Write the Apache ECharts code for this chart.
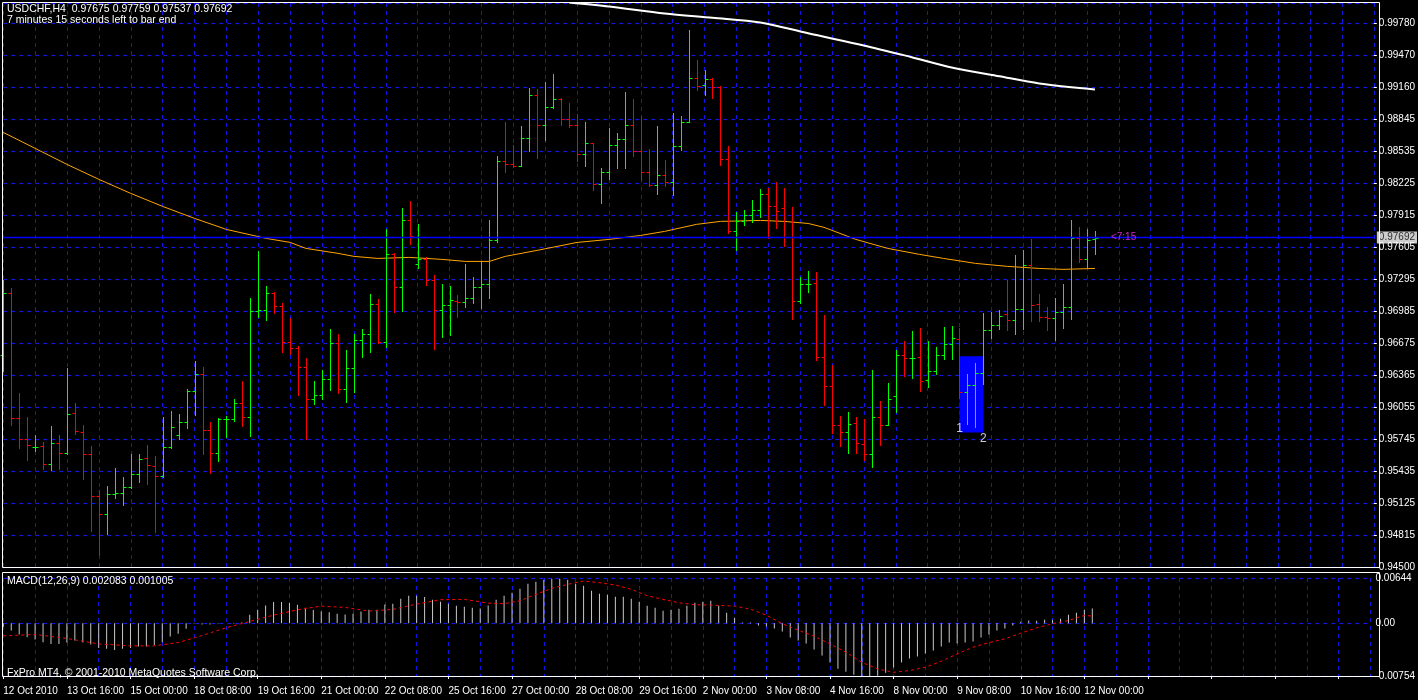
<!DOCTYPE html>
<html><head><meta charset="utf-8">
<script src="https://cdn.jsdelivr.net/npm/echarts@6/dist/echarts.min.js"></script>
<style>html,body{margin:0;padding:0;background:#000}#c{width:1418px;height:700px}</style>
</head><body><div id="c"></div>
<script>
// ---- data ----
const xTickLabels = ['12 Oct 2010','13 Oct 16:00','15 Oct 00:00','18 Oct 08:00','19 Oct 16:00','21 Oct 00:00','22 Oct 08:00','25 Oct 16:00','27 Oct 00:00','28 Oct 08:00','29 Oct 16:00','2 Nov 00:00','3 Nov 08:00','4 Nov 16:00','8 Nov 00:00','9 Nov 08:00','10 Nov 16:00','12 Nov 00:00'];
const priceTickLabels = ['0.94500','0.94815','0.95125','0.95435','0.95745','0.96055','0.96365','0.96675','0.96985','0.97295','0.97605','0.97915','0.98225','0.98535','0.98845','0.99160','0.99470','0.99780'];
const openP = [0.9655,0.97157,0.95946,0.95742,0.95665,0.95675,0.95500,0.95704,0.95607,0.95994,0.95810,0.95597,0.95190,0.95016,0.95210,0.95219,0.95277,0.95403,0.95558,0.95481,
0.95384,0.95665,0.95781,0.95907,0.96208,0.96372,0.95830,0.95607,0.95936,0.95936,0.96091,0.95956,0.96983,0.96992,0.97157,0.97031,0.96676,0.96624,0.96440,0.96124,
0.96163,0.96324,0.96666,0.96227,0.96431,0.96702,0.96760,0.97051,0.96676,0.97535,0.97216,0.97865,0.97438,0.97480,0.97283,0.96993,0.97041,0.97080,0.97070,0.97109,
0.97216,0.97245,0.97665,0.98436,0.98407,0.98388,0.98653,0.99076,0.98785,0.98960,0.99037,0.98843,0.98785,0.98504,0.98611,0.98214,0.98330,0.98592,0.98643,0.98785,
0.98533,0.98330,0.98204,0.98301,0.98233,0.98582,0.98814,0.99241,0.99173,0.99231,0.99154,0.98456,0.97758,0.97855,0.97913,0.97962,0.98117,0.98000,0.97981,0.97700,
0.97080,0.97245,0.97255,0.96538,0.96257,0.95879,0.95811,0.95898,0.95694,0.95598,0.95956,0.95879,0.96160,0.96557,0.96528,0.96538,0.96315,0.96402,0.96557,0.96664,
0.96712,0.96198,0.96266,0.96383,0.96799,0.96848,0.96954,0.96896,0.97003,0.97429,0.97052,0.96925,0.96916,0.96974,0.97022,0.97684,0.97481,0.97675];
const highP = [0.9728,0.97199,0.96182,0.95949,0.95781,0.95710,0.95862,0.95781,0.96424,0.96085,0.95872,0.95668,0.95245,0.95281,0.95455,0.95368,0.95591,0.95591,0.95678,0.95571,
0.95949,0.96007,0.95978,0.96220,0.96492,0.96434,0.95901,0.95939,0.95959,0.96124,0.96298,0.97102,0.97558,0.97219,0.97160,0.97054,0.96909,0.96644,0.96521,0.96298,
0.96405,0.96802,0.96754,0.96599,0.96754,0.96802,0.97141,0.97093,0.97771,0.97539,0.97975,0.98042,0.97823,0.97506,0.97325,0.97238,0.97219,0.97132,0.97432,0.97306,
0.97451,0.97858,0.98478,0.98808,0.98585,0.98769,0.99137,0.99128,0.99196,0.99273,0.99047,0.98992,0.98885,0.98808,0.98611,0.98362,0.98750,0.98701,0.99099,0.99031,
0.98866,0.98546,0.98769,0.98440,0.98895,0.98866,0.99699,0.99409,0.99312,0.99234,0.99157,0.98575,0.97936,0.97955,0.98052,0.98159,0.98168,0.98227,0.98168,0.97984,
0.97306,0.97364,0.97355,0.96938,0.96454,0.95959,0.95998,0.95950,0.95930,0.96405,0.96105,0.96279,0.96599,0.96686,0.96783,0.96812,0.96686,0.96628,0.96822,0.96832,
0.96812,0.96366,0.96473,0.96958,0.96967,0.96987,0.97277,0.97520,0.97568,0.97675,0.97142,0.97016,0.97103,0.97239,0.97859,0.97791,0.97771,0.97759];
const lowP = [0.9640,0.95875,0.95652,0.95536,0.95620,0.95445,0.95439,0.95445,0.95594,0.95784,0.95348,0.94845,0.94612,0.94819,0.95168,0.95100,0.95268,0.95319,0.95300,0.94835,
0.95368,0.95652,0.95736,0.95846,0.95972,0.95591,0.95410,0.95523,0.95755,0.95910,0.95862,0.95765,0.96918,0.96889,0.96957,0.96582,0.96563,0.96166,0.95736,0.96079,
0.96124,0.96214,0.96185,0.96095,0.96192,0.96534,0.96582,0.96673,0.96631,0.96970,0.96980,0.97629,0.97396,0.97232,0.96612,0.96728,0.96747,0.96922,0.97019,0.97057,
0.97009,0.97106,0.97652,0.98327,0.98378,0.98385,0.98530,0.98462,0.98637,0.98950,0.98782,0.98763,0.98433,0.98385,0.98152,0.98026,0.98259,0.98365,0.98365,0.98482,
0.98249,0.98191,0.98113,0.98191,0.98104,0.98540,0.98814,0.99121,0.99073,0.99044,0.98394,0.97736,0.97571,0.97813,0.97845,0.97891,0.97687,0.97784,0.97610,0.96902,
0.97057,0.97164,0.96505,0.96069,0.95798,0.95672,0.95604,0.95604,0.95536,0.95469,0.95682,0.95875,0.96001,0.96350,0.96331,0.96205,0.96244,0.96370,0.96515,0.96515,
0.96137,0.95885,0.95856,0.96273,0.96719,0.96806,0.96796,0.96757,0.96806,0.96883,0.96883,0.96796,0.96699,0.96815,0.96903,0.97455,0.97407,0.97537];
const closeP = [0.97157,0.95946,0.95742,0.95684,0.95665,0.95500,0.95704,0.95607,0.95985,0.95820,0.95597,0.95190,0.95016,0.95210,0.95219,0.95277,0.95403,0.95549,0.95491,0.95384,
0.95665,0.95859,0.95907,0.96208,0.96372,0.95830,0.95607,0.95936,0.95936,0.96091,0.95956,0.96983,0.96992,0.97157,0.97031,0.96676,0.96624,0.96440,0.96124,0.96163,
0.96324,0.96666,0.96227,0.96431,0.96702,0.96760,0.97051,0.96676,0.97535,0.97216,0.97865,0.97710,0.97480,0.97283,0.96993,0.97041,0.97090,0.97070,0.97109,0.97216,
0.97245,0.97665,0.98436,0.98407,0.98388,0.98653,0.99076,0.98785,0.98960,0.99037,0.98843,0.98785,0.98504,0.98611,0.98214,0.98330,0.98592,0.98643,0.98785,0.98533,
0.98330,0.98204,0.98301,0.98233,0.98582,0.98814,0.99241,0.99163,0.99231,0.99154,0.98456,0.97758,0.97855,0.97913,0.97962,0.98117,0.98000,0.97952,0.97700,0.97080,
0.97245,0.97245,0.96538,0.96257,0.95879,0.95811,0.95888,0.95704,0.95598,0.95956,0.95879,0.96131,0.96557,0.96528,0.96528,0.96305,0.96402,0.96557,0.96664,0.96722,
0.96198,0.96266,0.96383,0.96799,0.96848,0.96935,0.96896,0.97003,0.97429,0.97042,0.96925,0.96916,0.96974,0.97022,0.97684,0.97481,0.97671,0.97692];
// orange moving average: [bar index, value]
const maOrange = [[0,0.98711],[4,0.98556],[8,0.98401],[12,0.98256],[16,0.98120],[20,0.97994],[24,0.97878],[28,0.97771],[33,0.97684],[36,0.97645],[38,0.97587],[42,0.97539],[44,0.97510],[47,0.97490],[51,0.97500],[55,0.97481],[58,0.97461],[61,0.97461],[63,0.97510],[67,0.97568],[72,0.97645],[76,0.97674],[80,0.97713],[83,0.97752],[87,0.97820],[90,0.97849],[95,0.97858],[98,0.97849],[101,0.97829],[103,0.97791],[107,0.97674],[111,0.97587],[115,0.97529],[118,0.97490],[122,0.97442],[126,0.97413],[130,0.97393],[133,0.97384],[137,0.97393]];
// white moving average
const maWhite = [[71,0.99971],[76,0.99932],[83,0.99864],[89,0.99822],[95,0.99777],[101,0.99671],[108,0.99554],[114,0.99440],[119,0.99341],[125,0.99255],[130,0.99186],[137,0.99128]];
const macdHist = [-0.0005,-0.00105,-0.00162,-0.00200,-0.00234,-0.00272,-0.00296,-0.00296,-0.00277,-0.00248,-0.00277,-0.00305,-0.00353,-0.00367,-0.00382,-0.00367,-0.00353,-0.00334,-0.00334,-0.00310,
-0.00272,-0.00191,-0.00153,-0.00081,-0.0001,-0.0002,-0.0002,-0.0001,0,-0.0001,0.0001,0.00119,0.00191,0.00253,0.00300,0.00300,0.00286,0.00262,0.00219,0.00186,
0.00167,0.00157,0.00134,0.00124,0.00134,0.00167,0.00191,0.00191,0.00267,0.00277,0.00348,0.00391,0.00391,0.00372,0.00334,0.00305,0.00277,0.00248,0.00234,0.00219,
0.00210,0.00253,0.00334,0.00391,0.00434,0.00491,0.00563,0.00591,0.00620,0.00634,0.00634,0.00620,0.00563,0.00534,0.00463,0.00420,0.00405,0.00377,0.00377,0.00348,
0.00305,0.00248,0.00219,0.00176,0.00191,0.00205,0.00248,0.00291,0.00305,0.00320,0.00248,0.00148,0.00076,0.0001,0.0001,-0.00033,-0.00048,-0.00076,-0.00119,-0.00205,
-0.00248,-0.00291,-0.00377,-0.00463,-0.00563,-0.00649,-0.00692,-0.00735,-0.00777,-0.00763,-0.00749,-0.00706,-0.00634,-0.00563,-0.00506,-0.00477,-0.00434,-0.00391,-0.00334,-0.00277,
-0.00291,-0.00277,-0.00262,-0.00205,-0.00162,-0.00105,-0.00076,-0.00033,0.0002,0.00038,0.00033,0.00048,0.00048,0.00062,0.00119,0.00148,0.00191,0.002083];
const macdSignal = [[0,-0.00181],[4,-0.00162],[8,-0.00219],[12,-0.00296],[16,-0.00324],[19,-0.00324],[22,-0.00277],[25,-0.00176],[28,-0.00067],[31,0.00024],[34,0.00114],[37,0.00191],[40,0.00243],[43,0.00224],[46,0.00172],[49,0.00196],[52,0.00272],[55,0.00334],[58,0.00339],[61,0.00286],[63,0.00277],[65,0.00320],[67,0.00410],[69,0.00496],[71,0.00553],[73,0.00601],[75,0.00577],[77,0.00544],[79,0.00482],[81,0.00391],[83,0.00339],[85,0.00291],[87,0.00262],[89,0.00258],[92,0.00243],[94,0.00200],[96,0.00114],[98,-0.0001],[100,-0.00100],[102,-0.00186],[104,-0.00296],[106,-0.00415],[108,-0.00558],[110,-0.00653],[112,-0.00701],[114,-0.00677],[116,-0.00630],[118,-0.00544],[120,-0.00439],[122,-0.00343],[124,-0.00277],[126,-0.00224],[128,-0.00143],[130,-0.00067],[132,-0.0001],[134,0.00038],[136,0.00110],[137,0.001005]];
const lastPrice = 0.97692;
const boxTop = 0.96541, boxBottom = 0.95804, boxFrom = 120, boxTo = 123;

// ---- build ----
const N = 173;
const cats = [];
for (let i = 0; i < N; i++) cats.push(i % 8 === 0 && xTickLabels[i/8] ? xTickLabels[i/8] : '');
const ohlc = openP.map((o, i) => [i, o, highP[i], lowP[i], closeP[i]]);
const FONT = 'Liberation Sans';
const BLUE = '#1414e6';
const gridLine = {show: true, interval: (i) => i % 4 === 0, lineStyle: {color: BLUE, type: [4, 4], width: 1}};

const chart = echarts.init(document.getElementById('c'), null, {renderer: 'canvas'});
chart.setOption({
  backgroundColor: '#000',
  animation: false,
  grid: [
    {left: 3.3, right: 38.7, top: 3, height: 564},
    {left: 3.3, right: 38.7, top: 578, height: 98}
  ],
  xAxis: [
    {gridIndex: 0, type: 'category', data: cats, boundaryGap: false, axisLine: {show: false, onZero: false}, axisTick: {show: false}, axisLabel: {show: false}, splitLine: gridLine},
    {gridIndex: 1, type: 'category', data: cats, boundaryGap: false, position: 'bottom', axisLine: {show: false, onZero: false},
     axisTick: {show: true, interval: (i) => i % 8 === 0, length: 3, lineStyle: {color: '#fff'}},
     axisLabel: {show: true, interval: 0, color: '#fff', fontFamily: FONT, fontSize: 10, align: 'left', margin: 10},
     splitLine: gridLine}
  ],
  yAxis: [
    {gridIndex: 0, type: 'value', position: 'right', min: 0.945, max: 0.99965, interval: 0.0031,
     axisLine: {show: false}, axisTick: {show: true, length: 3, lineStyle: {color: '#fff'}},
     axisLabel: {color: '#fff', fontFamily: FONT, fontSize: 10, margin: 5, showMaxLabel: false,
       formatter: (v) => priceTickLabels[Math.round((v - 0.945) / 0.0031)] || ''},
     splitLine: {show: true, lineStyle: {color: BLUE, type: [4, 4], width: 1.2}}},
    {gridIndex: 1, type: 'value', position: 'right', min: -0.00754, max: 0.00644, interval: 0.00754,
     axisLine: {show: false}, axisTick: {show: false},
     axisLabel: {color: '#fff', fontFamily: FONT, fontSize: 10, margin: 5, showMaxLabel: true, showMinLabel: true,
       formatter: (v) => Math.abs(v) < 1e-9 ? '0.00' : (v > 0 ? '0.00644' : '-0.00754')},
     splitLine: {show: true, lineStyle: {color: BLUE, type: [4, 4], width: 1.2}}}
  ],
  graphic: [
    {type: 'rect', shape: {x: 2.5, y: 2.5, width: 1377, height: 565}, style: {fill: 'none', stroke: '#fff', lineWidth: 1}, z: 100},
    {type: 'rect', shape: {x: 2.5, y: 572.5, width: 1377, height: 104}, style: {fill: 'none', stroke: '#fff', lineWidth: 1}, z: 100},
    {type: 'text', left: 7, top: 4, style: {text: 'USDCHF,H4  0.97675 0.97759 0.97537 0.97692', fill: '#fff', font: '10.5px ' + FONT}, z: 100},
    {type: 'text', left: 7, top: 15, style: {text: '7 minutes 15 seconds left to bar end', fill: '#fff', font: '10.5px ' + FONT}, z: 100},
    {type: 'text', left: 7, top: 576, style: {text: 'MACD(12,26,9) 0.002083 0.001005', fill: '#fff', font: '10.5px ' + FONT}, z: 100},
    {type: 'text', left: 7, top: 668, style: {text: 'FxPro MT4, © 2001-2010 MetaQuotes Software Corp.', fill: '#fff', font: '10.5px ' + FONT}, z: 100}
  ],
  series: [
    {type: 'line', xAxisIndex: 0, yAxisIndex: 0, data: [[0, lastPrice], [N - 1, lastPrice]], showSymbol: false, lineStyle: {color: '#0000ff', width: 1.5}, z: 5},
    {type: 'line', xAxisIndex: 0, yAxisIndex: 0, data: maOrange, showSymbol: false, lineStyle: {color: '#ffa500', width: 1}, z: 3},
    {type: 'line', xAxisIndex: 0, yAxisIndex: 0, data: maWhite, showSymbol: false, smooth: 0.3, lineStyle: {color: '#fff', width: 2}, z: 3},
    {type: 'custom', xAxisIndex: 0, yAxisIndex: 0, data: ohlc, encode: {x: 0, y: [1, 2, 3, 4]}, z: 4,
     renderItem: function (params, api) {
       const i = api.value(0);
       const o = api.coord([i, api.value(1)]), h = api.coord([i, api.value(2)]), l = api.coord([i, api.value(3)]), c = api.coord([i, api.value(4)]);
       const x = Math.round(h[0]) + 0.5;
       const col = api.value(4) >= api.value(1) ? '#00ff00' : '#ff0000';
       const oy = Math.round(o[1]) + 0.5, cy = Math.round(c[1]) + 0.5;
       return {type: 'group', children: [
         {type: 'line', shape: {x1: x, y1: Math.round(h[1]), x2: x, y2: Math.round(l[1]) + 1}, style: {stroke: col, lineWidth: 1}},
         {type: 'line', shape: {x1: x - 3, y1: oy, x2: x, y2: oy}, style: {stroke: col, lineWidth: 1}},
         {type: 'line', shape: {x1: x, y1: cy, x2: x + 3, y2: cy}, style: {stroke: col, lineWidth: 1}}
       ]};
     },
     markArea: {silent: true, itemStyle: {color: '#0000ff', opacity: 1}, data: [[{coord: [boxFrom, boxTop]}, {coord: [boxTo, boxBottom]}]]}},
    {type: 'scatter', xAxisIndex: 0, yAxisIndex: 0, symbolSize: 0, z: 6,
     data: [
       {value: [boxFrom, boxBottom], label: {show: true, formatter: '1', position: 'top', distance: -2, color: '#fff', fontFamily: FONT, fontSize: 12}},
       {value: [boxTo, boxBottom], label: {show: true, formatter: '2', position: 'bottom', distance: 0, color: '#fff', fontFamily: FONT, fontSize: 12}},
       {value: [138.5, lastPrice], label: {show: true, formatter: '<7:15', position: 'right', distance: 0, color: '#ff33ff', fontFamily: FONT, fontSize: 10}},
       {value: [N - 1, lastPrice], label: {show: true, formatter: '0.97692', position: 'right', distance: 3, backgroundColor: '#fff', color: '#000', fontFamily: FONT, fontSize: 10, padding: [1, 2]}}
     ]},
    {type: 'bar', xAxisIndex: 1, yAxisIndex: 1, data: macdHist, barWidth: 1, itemStyle: {color: '#c8c8c8'}, z: 3},
    {type: 'line', xAxisIndex: 1, yAxisIndex: 1, data: macdSignal, showSymbol: false, lineStyle: {color: '#ff0000', width: 1, type: [3, 3]}, z: 4}
  ]
});
</script></body></html>
